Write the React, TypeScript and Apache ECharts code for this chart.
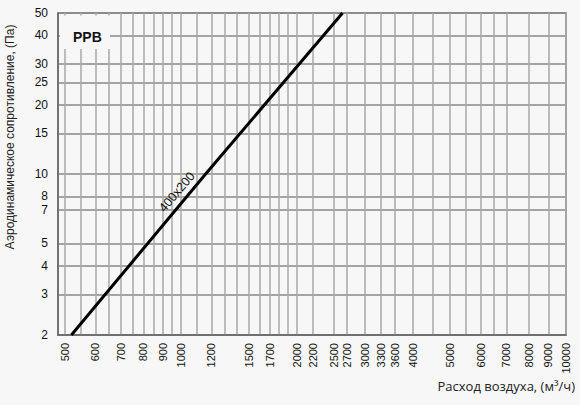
import React, { useEffect, useRef } from "react";
import * as echarts from "echarts";

// X axis: air flow (m³/h), labelled ticks and extra grid lines
const xLabelValues = [500, 600, 700, 800, 900, 1000, 1200, 1500, 1700, 2000, 2200, 2500, 2700, 3000, 3300, 3600, 4000, 5000, 6000, 7000, 8000, 9000, 10000];
const xGridExtra = [550, 650, 750, 850, 950, 1100, 1300, 1400, 1600, 1800, 1900, 4500, 5500, 6500];
// Y axis: pressure drop (Pa)
const yLabelValues = [2, 3, 4, 5, 7, 8, 10, 15, 20, 25, 30, 40, 50];

// Series 400x200
const seriesName = "400x200";
const flow = [520, 1160, 2630];
const pressure = [2, 10, 50];

const BG = "#f7f7f7";

export default function App() {
  const ref = useRef<HTMLDivElement>(null);
  useEffect(() => {
    document.body.style.margin = "0";
    document.body.style.background = BG;
    const chart = echarts.init(ref.current!, null, { renderer: "svg" });
    const xGridValues = [...xLabelValues, ...xGridExtra].sort((a, b) => a - b);
    const font = "'Liberation Sans', Arial, sans-serif";
    chart.setOption({
      animation: false,
      backgroundColor: BG,
      grid: {
        left: 58,
        right: 14,
        top: 13,
        bottom: 70,
        show: true,
        borderColor: "#777",
        borderWidth: 1.5,
      },
      xAxis: {
        type: "log",
        logBase: 10,
        min: 480,
        max: 10000,
        axisLine: { show: true, onZero: false, lineStyle: { color: "#666", width: 1.5 } },
        axisTick: { show: false, customValues: xGridValues },
        axisLabel: {
          customValues: xLabelValues,
          rotate: 90,
          fontSize: 11,
          color: "#111",
          fontFamily: font,
          margin: 8,
          formatter: (v: number) => String(Math.round(v)),
        },
        splitLine: { show: true, lineStyle: { color: "#a8a8a8", width: 1.5 } },
      },
      yAxis: {
        type: "log",
        logBase: 10,
        min: 2,
        max: 50,
        axisLine: { show: true, onZero: false, lineStyle: { color: "#666", width: 1.5 } },
        axisTick: { show: false, customValues: yLabelValues },
        axisLabel: {
          customValues: yLabelValues,
          fontSize: 12,
          color: "#111",
          fontFamily: font,
          margin: 10,
          formatter: (v: number) => String(Math.round(v)),
        },
        splitLine: { show: true, lineStyle: { color: "#888", width: 1.5 } },
      },
      series: [
        {
          name: seriesName,
          type: "line",
          data: flow.map((q, i) => [q, pressure[i]]),
          showSymbol: false,
          symbol: "none",
          lineStyle: { color: "#000", width: 3 },
          z: 5,
        },
      ],
      graphic: [
        { type: "rect", z: 100, shape: { x: 60, y: 15.5, width: 50, height: 33.5 }, style: { fill: BG } },
        {
          type: "text",
          z: 101,
          x: 73,
          y: 37,
          style: { text: "PPB", fontSize: 14, fontWeight: "bold", fill: "#111", fontFamily: font, textVerticalAlign: "middle" },
        },
        {
          type: "text",
          z: 101,
          x: 177,
          y: 192,
          rotation: (49.5 * Math.PI) / 180,
          style: { text: seriesName, fontSize: 12.5, fill: "#111", fontFamily: font, textAlign: "center", textVerticalAlign: "middle" },
        },
        {
          type: "text",
          z: 101,
          x: 575,
          y: 386,
          style: { text: "Расход воздуха, (м³/ч)", fontSize: 13, fill: "#222", fontFamily: "'Open Sans', sans-serif", textAlign: "right", textVerticalAlign: "middle" },
        },
        {
          type: "text",
          z: 101,
          x: 10,
          y: 137,
          rotation: Math.PI / 2,
          style: { text: "Аэродинамическое сопротивление, (Па)", fontSize: 12, fill: "#222", fontFamily: font, textAlign: "center", textVerticalAlign: "middle" },
        },
      ],
    });
    return () => chart.dispose();
  }, []);
  return <div ref={ref} style={{ position: "fixed", left: 0, top: 0, width: 580, height: 405 }} />;
}
